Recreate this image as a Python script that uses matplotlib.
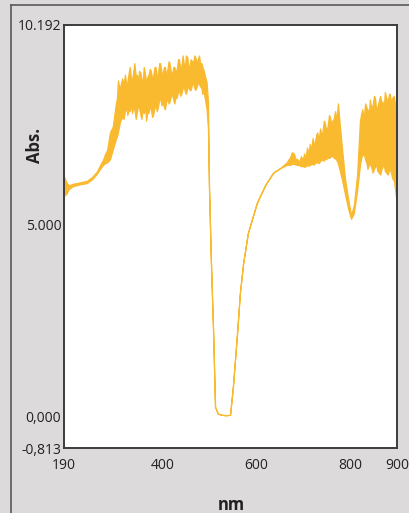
import matplotlib
matplotlib.use("Agg")
import matplotlib.pyplot as plt
from matplotlib.lines import Line2D

# ---- data ----
wavelength = [190, 195, 200, 209, 225, 239, 250, 260, 267, 273, 278, 282, 288, 294,
              300, 303, 305, 308, 310, 314, 317, 320, 323, 325, 328, 330, 333, 335, 338,
              340, 343, 345, 348, 350, 353, 355, 358, 360, 363, 365, 368, 370, 373,
              375, 378, 380, 383, 385, 388, 390, 393, 395, 398, 400, 403, 405, 408,
              410, 413, 415, 418, 420, 423, 425, 428, 430, 433, 435, 438, 440, 443,
              445, 448, 450, 453, 455, 458, 460, 463, 465, 468, 470, 473, 475, 478,
              480, 483, 485, 488, 490, 494, 497,
              499, 503, 508, 512, 518, 527, 535, 544, 550, 559, 565, 572, 582, 601,
              619, 636, 651, 665, 669, 672, 676, 680, 684, 688, 692, 695, 699, 702,
              705, 708, 711, 714, 717, 720, 723, 725, 728, 730, 733, 736, 739, 741,
              744, 746, 749, 752, 755, 757, 760, 762, 765, 768, 771, 774, 778, 783,
              789, 796, 802, 808, 815, 821, 824, 826, 829, 832, 835, 837, 840, 842,
              845, 848, 851, 853, 856, 858, 861, 864, 867, 869, 872, 874, 877, 880,
              883, 885, 888, 890, 893, 895, 899]
abs_low = [5.75, 5.80, 5.92, 6.00, 6.05, 6.08, 6.18, 6.32, 6.45, 6.55, 6.60, 6.62, 6.70, 6.95,
           7.20, 7.30, 7.40, 7.60, 7.70, 7.80, 7.75, 7.95, 8.05, 7.85, 8.00, 7.95, 8.15, 7.90,
           8.05, 8.00, 7.75, 7.90, 8.10, 8.05, 7.85, 7.75, 8.00, 7.90, 8.05, 7.70, 7.95, 7.90,
           8.10, 8.00, 7.80, 7.85, 8.05, 8.10, 7.95, 8.05, 8.25, 8.30, 8.10, 8.20, 8.05, 8.00,
           8.20, 8.30, 8.15, 8.20, 8.35, 8.40, 8.25, 8.15, 8.30, 8.30, 8.45, 8.50, 8.35, 8.40,
           8.55, 8.60, 8.45, 8.40, 8.55, 8.60, 8.50, 8.50, 8.65, 8.70, 8.55, 8.50, 8.60, 8.70,
           8.65, 8.60, 8.55, 8.40, 8.45, 8.30, 8.00, 7.50,
           6.05, 4.13, 2.18, 0.26, 0.08, 0.05, 0.04, 0.05, 0.77, 2.18, 3.22, 4.00, 4.78, 5.56,
           6.03, 6.35, 6.47, 6.55, 6.56, 6.55, 6.58, 6.58, 6.56, 6.55, 6.54, 6.52, 6.52, 6.50,
           6.52, 6.55, 6.53, 6.55, 6.57, 6.58, 6.56, 6.60, 6.62, 6.62, 6.60, 6.65, 6.68, 6.70,
           6.66, 6.72, 6.70, 6.75, 6.73, 6.75, 6.78, 6.80, 6.74, 6.72, 6.68, 6.60, 6.40, 6.15,
           5.80, 5.40, 5.15, 5.30, 5.90, 6.55, 6.75, 6.80, 6.85, 6.70, 6.60, 6.45, 6.55, 6.60,
           6.50, 6.35, 6.45, 6.50, 6.55, 6.40, 6.35, 6.30, 6.45, 6.50, 6.55, 6.40, 6.35, 6.30,
           6.40, 6.45, 6.30, 6.20, 6.15, 6.00, 5.60]
abs_high = [6.25, 6.10, 6.02, 6.06, 6.10, 6.14, 6.24, 6.38, 6.55, 6.68, 6.85, 6.94, 7.40, 7.55,
            8.10, 8.30, 8.75, 8.55, 8.60, 8.80, 8.65, 8.90, 8.60, 8.70, 8.95, 9.10, 8.80, 8.75,
            9.00, 9.20, 8.85, 8.90, 8.75, 9.00, 8.95, 8.80, 8.70, 9.10, 8.90, 8.70, 8.85, 8.90,
            9.05, 9.00, 8.80, 8.85, 9.10, 9.10, 8.85, 8.90, 9.20, 9.20, 8.95, 8.90, 9.10, 9.10,
            8.90, 9.00, 9.25, 9.20, 8.95, 8.90, 9.10, 9.10, 9.00, 9.00, 9.30, 9.30, 9.05, 9.10,
            9.40, 9.20, 9.15, 9.40, 9.35, 9.10, 9.15, 9.30, 9.25, 9.20, 9.40, 9.35, 9.20, 9.30,
            9.40, 9.20, 9.20, 9.10, 9.00, 8.90, 8.70, 8.20,
            6.05, 4.13, 2.18, 0.26, 0.08, 0.05, 0.04, 0.05, 0.77, 2.18, 3.22, 4.00, 4.78, 5.56,
            6.03, 6.35, 6.47, 6.62, 6.70, 6.75, 6.88, 6.85, 6.70, 6.70, 6.62, 6.78, 6.68, 6.85,
            6.72, 7.00, 6.85, 7.10, 6.95, 7.25, 7.05, 7.15, 7.35, 7.40, 7.20, 7.50, 7.35, 7.40,
            7.70, 7.65, 7.45, 7.55, 7.85, 7.80, 7.60, 7.70, 7.75, 7.95, 7.70, 8.15, 7.60, 6.95,
            6.20, 5.65, 5.25, 5.50, 6.30, 7.70, 7.90, 8.00, 7.75, 8.15, 8.05, 8.00, 7.85, 8.25,
            8.05, 8.10, 8.35, 8.30, 7.95, 8.05, 8.20, 8.35, 8.15, 8.20, 8.05, 8.45, 8.30, 8.20,
            8.40, 8.40, 8.10, 8.30, 8.35, 8.20, 7.80]

x_ticks = [190, 400, 600, 800, 900]
x_tick_labels = ["190", "400", "600", "800", "900"]
y_ticks = [-0.813, 0.0, 5.0, 10.192]
y_tick_labels = ["-0,813", "0,000", "5.000", "10.192"]

# ---- style ----
BG = "#DCDADB"
LINE = "#F9BA30"
plt.rcParams["font.family"] = ["Open Sans", "DejaVu Sans"]

fig = plt.figure(figsize=(4.09, 5.13), dpi=100, facecolor=BG)

# outer frame (only left and top edges fall inside the image)
fx = 11 / 409
fy = 1 - 5 / 513
fig.add_artist(Line2D([fx, fx], [0, fy], transform=fig.transFigure,
                      color="#5a5a5a", linewidth=1.2))
fig.add_artist(Line2D([fx, 1], [fy, fy], transform=fig.transFigure,
                      color="#5a5a5a", linewidth=1.2))

ax = fig.add_axes([64 / 409, (513 - 448) / 513, (397 - 64) / 409, (448 - 25) / 513])
ax.set_facecolor("white")

ax.fill_between(wavelength, abs_low, abs_high, color=LINE, linewidth=0.9,
                edgecolor=LINE)

ax.set_xlim(190, 900)
ax.set_ylim(-0.813, 10.192)
ax.set_xticks(x_ticks)
ax.set_xticklabels(x_tick_labels)
ax.set_yticks(y_ticks)
ax.set_yticklabels(y_tick_labels)
ax.tick_params(axis="both", length=0, labelsize=10, colors="#222222")
ax.tick_params(axis="y", pad=2)
ax.tick_params(axis="x", pad=7)
for s in ax.spines.values():
    s.set_color("#3c3c3c")
    s.set_linewidth(1.4)

fig.text(35 / 409, 1 - 145 / 513, "Abs.", rotation=90, ha="center", va="center",
         fontsize=12, fontweight="bold", color="#222222")
fig.text(231 / 409, 1 - 505 / 513, "nm", ha="center", va="center",
         fontsize=12, fontweight="bold", color="#222222")

fig.savefig("out.png", dpi=100, facecolor=BG)
